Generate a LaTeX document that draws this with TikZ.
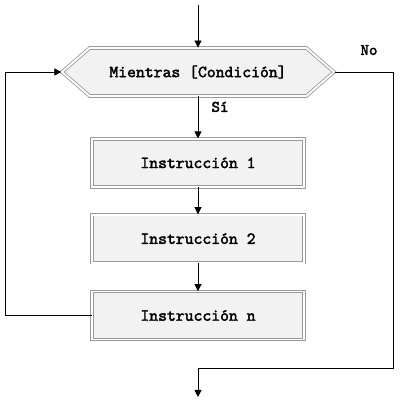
\documentclass[tikz,border=0pt]{standalone}
\usepackage{fontspec}
\setmonofont{lmmono10-regular.otf}[BoldFont=lmmono10-regular.otf, BoldFeatures={FakeBold=2.2}]
\usepackage{tikz}
\usetikzlibrary{shapes.symbols, arrows.meta, positioning}
\definecolor{bordegris}{HTML}{9A9A9A}
\definecolor{fondogris}{HTML}{F2F2F2}

\begin{document}
\begin{tikzpicture}[
  node distance=0.7cm,
  every node/.style={font=\ttfamily\bfseries\fontsize{12}{14}\selectfont},
  caja/.style={rectangle, draw=bordegris, double=white, double distance=1.3pt, line width=0.6pt, fill=fondogris, minimum width=5.3cm, minimum height=1.2cm},
  condicion/.style={signal, signal to=west and east, signal pointer angle=82, draw=bordegris, double=white, double distance=1.3pt, line width=0.6pt, fill=fondogris, minimum width=6.8cm, minimum height=1.2cm},
  flecha/.style={-{Triangle[length=5pt, width=5pt]}, line width=0.6pt},
  etiqueta/.style={font=\ttfamily\bfseries\fontsize{11.5}{12}\selectfont}
]
  \useasboundingbox (0,0) rectangle (10,10.125);

  \node[condicion] (cond) at (4.95,8.325) {Mientras [Condición]};
  \node[caja, below=1.05cm of cond] (inst1) {Instrucción 1};
  \node[caja, below=0.675cm of inst1] (inst2) {Instrucción 2};
  \node[caja, below=of inst2] (instn) {Instrucción n};

  \coordinate (inicio) at (4.95,10.0);
  \coordinate (codo) at (9.825,0.925);
  \coordinate (fin) at (4.95,0.2);

  \draw[flecha] (inicio) -- (cond.north);
  \draw[flecha] (cond.south) -- node[etiqueta, right, pos=0.25, xshift=6pt] {Sí} (inst1.north);
  \draw[flecha] (inst1) -- (inst2);
  \draw[flecha] (inst2) -- (instn);
  % vuelta al ciclo
  \draw[flecha] (instn.west) -- ++(-2.15,0) |- (cond.west);
  % salida
  \draw[flecha] (cond.east) -| (codo) -| (fin);
  \node[etiqueta] (no) at (9.225,8.875) {No};
\end{tikzpicture}
\end{document}
